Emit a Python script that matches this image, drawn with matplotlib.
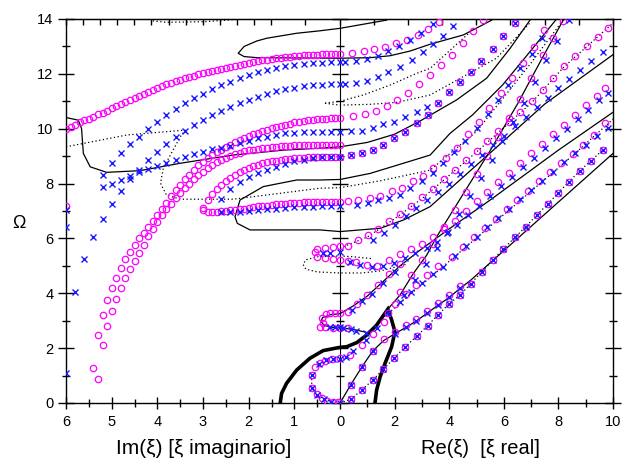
import matplotlib
matplotlib.use('Agg')
import matplotlib.pyplot as plt
from matplotlib.ticker import NullFormatter
import numpy as np

# x convention: negative values = Im(xi) magnitude (left panel), positive = Re(xi)
K = 10.04 / 6.0

def fwd(x):
    x = np.asarray(x, dtype=float)
    return np.where(x < 0, x * K, x)

def inv(u):
    u = np.asarray(u, dtype=float)
    return np.where(u < 0, u / K, u)

im01 = [6.0,5.9,5.8,5.7,5.6,5.5,5.4,5.3,5.2,5.1,5.0,4.9,4.8,4.7,4.6,4.5,4.4,4.3,4.2,4.1,
        4.0,3.9,3.8,3.7,3.6,3.5,3.4,3.3,3.2,3.1,3.0,2.9,2.8,2.7,2.6,2.5,2.4,2.3,2.2,2.1,
        2.0,1.9,1.8,1.7,1.6,1.5,1.4,1.3,1.2,1.1,1.0,0.9,0.8,0.7,0.6,0.5,0.4,0.3,0.2,0.1,0.0]

# ================= circles (magenta) =================
L1_om = [9.99,10.07,10.15,10.23,10.30,10.37,10.44,10.52,10.59,10.66,10.74,10.81,10.89,10.97,11.04,
         11.12,11.19,11.27,11.34,11.42,11.49,11.56,11.62,11.68,11.74,11.79,11.84,11.89,11.94,11.98,
         12.02,12.06,12.10,12.14,12.18,12.22,12.26,12.30,12.34,12.37,12.40,12.43,12.46,12.49,12.52,
         12.54,12.56,12.58,12.60,12.62,12.64,12.65,12.67,12.68,12.69,12.70,12.71,12.71,12.72,12.72,12.72]
L1_re = [0.45,0.87,1.26,1.65,2.04,2.44,2.84,3.22,3.61]
L1_re_om = [12.75,12.83,12.90,12.98,13.12,13.24,13.42,13.64,13.90]

P_om = [1.26,2.48,3.21,3.75,4.20,4.57,4.93,5.24,5.52,5.76,6.00,6.21,6.43,6.64,6.85,7.07,7.30,7.53,
        7.75,7.95,8.15,8.33,8.50,8.66,8.80,8.92,9.03,9.14,9.24,9.33,9.42,9.50,9.58,9.65,9.72,9.79,
        9.85,9.91,9.96,10.01,10.06,10.11,10.15,10.19,10.23,10.26,10.29,10.31,10.33,10.35,10.36,
        10.37,10.38,10.38,10.38]
P_re = [0.49,0.92,1.31,1.71,2.10,2.50,2.90,3.30,3.70,4.09,4.49,4.88,5.25]
P_re_om = [10.47,10.52,10.65,10.84,11.05,11.31,11.62,11.96,12.32,12.69,13.12,13.56,13.95]

Q_om = [0.87,2.11,2.81,3.35,3.79,4.20,4.54,4.87,5.19,5.48,5.76,6.09,6.35,6.60,6.84,7.06,7.27,7.47,
        7.65,7.83,8.00,8.15,8.30,8.44,8.56,8.67,8.77,8.86,8.94,9.01,9.07,9.12,9.17,9.21,9.24,9.27,
        9.29,9.31,9.33,9.35,9.36,9.37,9.38,9.39,9.40,9.40,9.41,9.41,9.42,9.42,9.42,9.42,9.42,9.42]

R_om = [7.40,7.62,7.80,7.96,8.10,8.22,8.33,8.43,8.51,8.58,8.64,8.69,8.74,8.78,8.81,8.84,8.87,8.89,
        8.91,8.93,8.94,8.95,8.96,8.97,8.97,8.98,8.98,8.98,8.98,8.98]

S_im = [3.0,3.0,2.9,2.8,2.7,2.6,2.5,2.4,2.3,2.2,2.1,2.0,1.9,1.8,1.7,1.6,1.5,1.4,1.3,1.2,1.1,1.0,
        0.9,0.8,0.7,0.6,0.5,0.4,0.3,0.2,0.1,0.0]
S_om = [7.12,7.04,6.98,6.97,6.98,6.99,7.00,7.02,7.04,7.07,7.09,7.12,7.14,7.17,7.19,7.20,7.22,7.24,
        7.25,7.27,7.28,7.29,7.30,7.31,7.31,7.32,7.32,7.33,7.33,7.33,7.33,7.33]
S_re = [0.30,0.67,1.10,1.47,1.89,2.26,2.69,3.05,3.40,3.88,4.27,4.70,5.10,5.46,5.90,6.29,6.72,7.10,7.47]
S_re_om = [7.38,7.40,7.47,7.55,7.72,7.85,8.10,8.28,8.55,8.92,9.31,9.80,10.26,10.77,11.29,11.84,12.38,12.99,13.60]

# box series (circle + cross) starting at Omega ~9
B_re = [0.39,0.79,1.19,1.59,1.99,2.39,2.81,3.21,3.60,3.99,4.39,4.78,5.18,5.59,5.98,6.40]
B_om = [9.04,9.10,9.22,9.41,9.65,9.89,10.20,10.50,10.93,11.35,11.71,12.08,12.47,12.89,13.38,13.86]
# box series from origin (dotted)
B0_re = [0.39,0.79,1.20,1.59,1.99,2.39,2.81,3.21,3.58,3.99,4.40,4.79,5.19,5.59,5.98,6.41,6.81,7.20,
         7.61,8.00,8.39,8.79,9.19,9.62]
B0_om = [0.13,0.47,0.84,1.23,1.65,2.05,2.44,2.82,3.21,3.61,3.94,4.35,4.78,5.20,5.62,6.04,6.43,6.85,
         7.25,7.67,8.07,8.47,8.83,9.22]
B1_re = [0.39,0.79,1.20]
B1_om = [0.66,1.30,1.90]

# markers along the solid line from the origin
S1c_re = [1.60,2.00,2.40,2.80,3.20,3.60,4.00,4.40]
S1c_om = [2.35,2.60,2.84,3.08,3.37,3.65,3.93,4.26]
S1x_re = [2.00,2.40,2.80,3.20,3.60,4.00,4.40]
S1x_om = [2.52,2.76,3.00,3.29,3.57,3.85,4.18]

# lowest hook (near origin) -> cusp
H0c_x = [-0.05,-0.15,-0.29,-0.40,-0.51,-0.62,-0.62,-0.55,-0.44,-0.33,-0.18,0.0,0.37,0.80,1.20,1.60,1.77]
H0c_om = [0.02,0.05,0.09,0.17,0.32,0.54,1.02,1.32,1.47,1.54,1.59,1.63,1.75,2.10,2.50,2.95,3.27]
H0x_x = [0.0,-0.20,-0.35,-0.50,-0.62,-0.62,-0.45,-0.30,-0.15,0.0,0.20,0.49,0.95,1.34,1.77]
H0x_om = [0.0,0.05,0.13,0.30,0.54,1.02,1.42,1.55,1.60,1.62,1.68,1.90,2.30,2.72,3.27]

# hook near Omega ~3
H3c_x = [-0.44,-0.33,-0.15,0.0,0.30,-0.37,-0.40,-0.31,-0.22,-0.11,0.0,0.28,0.61,0.98,1.38,1.81,2.20]
H3c_om = [2.78,2.76,2.75,2.73,2.72,2.90,3.09,3.23,3.27,3.29,3.29,3.33,3.60,3.94,4.30,4.70,5.05]
H3x_x = [-0.22,-0.10,0.0,0.12,0.40,0.59,0.95,0.45,0.79,1.16,1.59,2.01]
H3x_om = [2.76,2.76,2.76,2.72,2.69,2.62,2.56,3.38,3.72,3.97,4.36,4.79]

# hook near Omega ~5.5
H5c_x = [-0.55,-0.50,-0.33,-0.15,0.0,-0.50,-0.33,-0.15,0.0,0.30,0.59,0.98,1.35,1.78,2.20]
H5c_om = [5.52,5.60,5.64,5.70,5.73,5.32,5.28,5.25,5.22,5.18,5.15,5.03,4.98,5.22,5.42]
H5x_x = [-0.37,-0.22,0.0,0.37,0.73,1.16,1.59,1.99]
H5x_om = [5.46,5.48,5.52,5.13,5.03,4.97,4.99,5.09]

# band (alpha) ending at right edge near 11.3-11.5
Ac_re = [2.60,3.00,3.40,3.80,4.20,4.60,5.00,5.40,5.80,6.20,6.60,7.00,7.40,7.80,8.20,8.60,9.00,9.40,9.70]
Ac_om = [5.60,5.80,6.05,6.35,6.65,7.00,7.35,7.70,8.05,8.40,8.75,9.10,9.45,9.80,10.15,10.50,10.85,11.20,11.47]
Ax_re = [2.38,2.75,3.18,3.54,3.91,4.30,4.70,5.10,5.50,5.90,6.30,6.70,7.10,7.50,7.90,8.30,8.70,9.10,9.50,9.80]
Ax_om = [5.27,5.46,5.64,5.88,6.19,6.50,6.85,7.20,7.55,7.90,8.25,8.60,8.95,9.30,9.65,10.00,10.35,10.70,11.05,11.29]

# band (beta) from the cusp to the right edge near 10
Bc_re = [2.00,2.40,2.80,3.20,3.60,4.09,4.52,4.90,5.30,5.70,6.10,6.50,6.90,7.30,7.70,8.10,8.52,8.90,9.30,9.71]
Bc_om = [3.62,3.98,4.32,4.65,4.98,5.33,5.70,6.05,6.38,6.72,7.06,7.40,7.74,8.08,8.42,8.75,9.08,9.42,9.78,10.20]
Bx_re = [2.20,2.60,3.00,3.40,3.78,4.20,4.60,5.00,5.40,5.80,6.20,6.60,7.00,7.40,7.80,8.20,8.60,9.00,9.40,9.80]
Bx_om = [3.69,4.05,4.38,4.70,4.97,5.35,5.72,6.06,6.40,6.74,7.08,7.42,7.76,8.10,8.44,8.78,9.10,9.42,9.74,10.02]

# band E (circles to right edge ~13.7, crosses to ~12.8)
Ec_re = [0.30,0.67,1.04,1.40,1.80,2.20,2.60,3.00,3.40,3.80,4.20,4.60,5.00,5.40,5.80,6.20,6.60,7.02,
         7.42,7.80,8.20,8.60,9.04,9.45,9.83]
Ec_om = [5.73,5.94,6.12,6.35,6.62,6.90,7.20,7.50,7.82,8.15,8.50,8.85,9.20,9.55,9.90,10.25,10.60,11.00,
         11.40,11.85,12.30,12.65,13.03,13.35,13.68]
Ex_re = [1.20,1.60,2.00,2.40,2.80,3.20,3.60,4.00,4.40,4.80,5.20,5.60,6.00,6.40,6.81,7.20,7.61,8.00,
         8.40,8.79,9.20,9.62]
Ex_om = [5.95,6.20,6.50,6.80,7.10,7.40,7.70,8.00,8.35,8.70,9.05,9.40,9.75,10.10,10.44,10.80,11.13,11.47,
         11.81,12.14,12.46,12.78]

# steep band (gamma) from the cusp to the top
Gc_re = [2.20,2.60,3.00,3.40,3.80,4.20,4.60,5.00,5.40,5.80,6.20,6.60,7.00,7.42,7.81,8.18]
Gc_om = [4.05,4.65,5.20,5.80,6.40,7.05,7.70,8.35,9.00,9.70,10.40,11.10,11.85,12.69,13.32,13.93]
Gx_re = [2.35,2.75,3.15,3.55,3.95,4.35,4.75,5.15,5.55,5.95,6.35,6.75,7.15,7.55,7.95,8.40]
Gx_om = [3.92,4.50,5.05,5.65,6.25,6.90,7.55,8.20,8.85,9.55,10.25,10.95,11.70,12.50,13.20,13.95]

# ================= crosses (blue) =================
im02_X1 = [5.2,5.0,4.8,4.6,4.4,4.2,4.0,3.8,3.6,3.4,3.2,3.0,2.8,2.6,2.4,2.2,2.0,1.8,1.6,1.4,1.2,1.0,
           0.8,0.6,0.4,0.2,0.0]
X1_om = [8.31,8.74,9.10,9.43,9.71,9.99,10.26,10.50,10.71,10.93,11.11,11.26,11.44,11.59,11.71,11.84,
         11.95,12.06,12.14,12.21,12.27,12.32,12.36,12.39,12.41,12.42,12.43]
X1_re = [0.18,0.59,0.98,1.38,1.77,2.17,2.56,2.96,3.40]
X1_re_om = [12.43,12.47,12.53,12.66,12.83,13.03,13.23,13.48,13.80]

X2_im = [5.2,5.0,4.8,4.6,4.4,4.2,4.0,3.8,3.6,3.4,3.2,3.0,2.8,2.6,2.4,2.2,2.0,1.8,1.6,1.4,1.2,1.0,
         0.8,0.6,0.4,0.2,0.0]
X2_om = [7.89,8.00,8.13,8.27,8.42,8.53,8.65,8.75,8.86,8.98,9.08,9.16,9.25,9.31,9.38,9.47,9.55,9.65,
         9.71,9.77,9.83,9.85,9.87,9.88,9.89,9.89,9.89]
X2_re = [0.39,0.79,1.20,1.59,1.99,2.38,2.81,3.18]
X2_re_om = [9.92,9.92,10.01,10.16,10.26,10.44,10.62,10.80]

X3_im = [6.0,5.8,5.6,5.4,5.2,5.0,4.8,4.6,4.4,4.2,4.0,3.8,3.6,3.4,3.2,3.0,2.8,2.6,2.4,2.2,2.0,1.8,
         1.6,1.4,1.2,1.0,0.8,0.6,0.4,0.2,0.0]
X3_om = [1.10,4.05,5.25,6.06,6.71,7.27,7.73,8.15,8.50,8.86,9.14,9.44,9.69,9.93,10.13,10.32,10.50,
         10.66,10.80,10.93,11.04,11.17,11.28,11.36,11.43,11.50,11.55,11.58,11.60,11.62,11.62]
X3_re = [0.18,0.59,0.98,1.38,1.77,2.20,2.63,3.03,3.40,3.78,4.15]
X3_re_om = [11.62,11.65,11.74,11.90,12.05,12.26,12.50,12.78,13.08,13.39,13.76]

XS_im = [2.6,2.4,2.2,2.0,1.8,1.6,1.4,1.2,1.0,0.8,0.6,0.4,0.2,0.0]
XS_om = [6.95,6.96,6.98,7.00,7.03,7.06,7.08,7.11,7.13,7.15,7.16,7.17,7.17,7.17]
XS_re = [0.61,1.02,1.39,1.79,2.20,2.56,3.00,3.40,3.78,4.19,4.58,5.00,5.41,5.80,6.17,6.59,7.02,7.40]
XS_re_om = [7.22,7.30,7.40,7.47,7.60,7.85,8.10,8.40,8.74,9.14,9.55,10.04,10.52,11.05,11.59,12.20,12.71,13.30]

XR_im = [2.6,2.4,2.2,2.0,1.8,1.6,1.4,1.2,1.0,0.8,0.6,0.4,0.2,0.0]
XR_om = [7.43,7.79,8.05,8.25,8.37,8.49,8.61,8.73,8.81,8.87,8.93,8.96,8.98,8.98]

Xedge_im = [6.0,6.0]
Xedge_om = [6.43,7.04]
Cedge_im = [6.0]
Cedge_om = [7.19]

# ================= lines =================
thick_x = [-1.31,-1.28,-1.17,-0.95,-0.66,-0.37,0.0,0.24,0.61,0.98,1.34,1.75,1.89,2.01,1.89,1.65,1.47,1.34,1.28]
thick_om = [0.0,0.35,0.72,1.20,1.63,1.91,2.03,2.05,2.20,2.48,2.84,3.42,3.03,2.60,2.05,1.45,0.96,0.47,0.0]

s1_x = [0.0,0.39,0.79,1.20,1.59,2.00,2.42,2.81,3.21,3.60,4.00,4.40,4.79,10.0]
s1_om = [0.0,0.66,1.30,1.90,2.27,2.52,2.76,3.00,3.29,3.57,3.85,4.18,4.48,9.10]

t1_x = [1.75,2.20,2.69,3.18,3.54,4.50,5.50,6.50,7.42,8.20]
t1_om = [3.42,3.94,4.73,5.40,6.06,7.60,9.20,10.90,12.60,14.00]

t2_x = [0.95,0.50,0.0,-0.20,-0.35,-0.42,-0.38,-0.20,0.0,0.50,1.00,1.60,2.20,2.90,4.00,5.50,8.00,10.0]
t2_om = [2.58,2.68,2.74,2.76,2.84,2.98,3.12,3.22,3.26,3.55,3.90,4.45,5.00,5.55,6.35,7.40,9.22,10.60]

utop_x = [1.71,0.0,-0.44,-0.95,-1.60,-1.82,-2.10,-2.23,-2.10,-1.82,-0.95,0.0,1.10,1.83,2.56,3.30,4.52,5.56]
utop_om = [13.96,13.66,13.57,13.48,13.30,13.20,13.00,12.75,12.63,12.59,12.58,12.57,12.59,12.66,12.83,13.08,13.42,13.96]

umid_x = [-6.0,-5.73,-5.66,-5.62,-5.47,-5.11,-4.38,-3.50,-2.34,-1.24,-0.44,0.0,1.0,2.0,2.93,4.27,5.37,6.23,6.96]
umid_om = [10.41,10.31,10.01,9.10,8.61,8.41,8.47,8.74,9.04,9.22,9.29,9.34,9.50,9.80,10.28,11.05,11.84,12.93,13.96]

ulow_x = [7.90,6.96,5.95,4.85,4.03,3.30,2.32,1.10,0.0,-0.44,-0.95,-1.68,-2.19,-2.30,-2.25,-1.97,-1.60,-0.44,0.0,1.47,2.32,3.30,5.37,7.50,10.0]
ulow_om = [13.96,12.81,11.59,10.50,9.83,9.04,8.74,8.37,8.15,8.13,8.13,7.89,7.40,6.79,6.55,6.31,6.31,6.31,6.25,6.37,6.67,7.16,9.00,10.90,12.70]

d_top_x = [-4.1,-3.8,-3.0,-2.2]
d_top_om = [13.93,13.88,13.90,13.99]

d_v_x = [-6.0,-4.67,-3.39,-3.50,-3.87,-3.93,-3.80,-3.50,-2.34,-0.44,0.0,1.47,3.30,5.00,7.00,8.20]
d_v_om = [9.34,9.77,9.95,9.70,8.56,8.01,7.58,7.43,7.43,7.83,7.85,8.10,8.49,9.90,12.40,14.00]

d_h1_x = [-0.33,0.0,0.85,1.83,2.81,3.30,4.85]
d_h1_om = [10.93,11.00,11.23,11.59,12.02,12.20,13.60]
d_h2_x = [-0.33,0.0,1.10,2.08,3.30,5.73,7.0]
d_h2_om = [10.93,10.86,10.89,10.96,11.23,12.57,13.9]

d_e_x = [0.0,1.0,2.0,3.0,5.0,7.02,8.20,10.0]
d_e_om = [5.65,6.05,6.72,7.45,9.15,10.95,12.25,13.85]

d_b_x = [1.77,2.60,3.80,5.00,7.00,8.52,10.0]
d_b_om = [3.27,3.98,5.00,6.02,7.72,9.02,10.35]

d_e5_x = [2.40,1.50,0.80,0.0,-0.50,-0.75,-0.81,-0.75,-0.50,0.0,0.50,1.20]
d_e5_om = [5.05,4.82,4.74,4.74,4.78,4.88,5.05,5.22,5.33,5.36,5.33,5.26]

d_h0_x = [0.0,-0.30,-0.50,-0.62,-0.62]
d_h0_om = [0.0,0.10,0.30,0.54,1.02]

d_b0_x = [0.0] + B0_re
d_b0_om = [0.0] + B0_om

# ================= figure =================
plt.rcParams['font.family'] = ['Liberation Sans', 'DejaVu Sans']
fig = plt.figure(figsize=(6.23, 4.63), dpi=100)
L, R, B, T = 66/623, 613/623, (463-403)/463, (463-19)/463
ax = fig.add_axes([L, B, R-L, T-B])
ax.set_xscale('function', functions=(fwd, inv))
ax.set_xlim(-6, 10)
ax.set_ylim(0, 14)

MAG = '#ff00ff'
BLU = '#1a1aff'
ck = dict(ls='none', marker='o', ms=4.6, mfc='none', mec=MAG, mew=0.9, zorder=4)
xk = dict(ls='none', marker='x', ms=4.6, mec=BLU, mew=1.0, zorder=5)
lk = dict(color='black', lw=0.9, zorder=3)
dk = dict(color='black', lw=0.9, ls=(0, (1, 2)), zorder=3)

def neg(v):
    return [-a for a in v]

# lines
ax.plot(thick_x, thick_om, color='black', lw=2.6, zorder=3, solid_joinstyle='miter')
for xs, ys in [(s1_x, s1_om), (t1_x, t1_om), (t2_x, t2_om), (utop_x, utop_om),
               (umid_x, umid_om), (ulow_x, ulow_om)]:
    ax.plot(xs, ys, **lk)
for xs, ys in [(d_top_x, d_top_om), (d_v_x, d_v_om), (d_h1_x, d_h1_om), (d_h2_x, d_h2_om),
               (d_e_x, d_e_om), (d_b_x, d_b_om), (d_e5_x, d_e5_om), (d_h0_x, d_h0_om),
               (d_b0_x, d_b0_om)]:
    ax.plot(xs, ys, **dk)

# circles
circ = [(neg(im01), L1_om), (L1_re, L1_re_om), (neg(im01[6:]), P_om), (P_re, P_re_om),
        (neg(im01[7:]), Q_om), (neg(im01[31:]), R_om), (neg(S_im), S_om), (S_re, S_re_om),
        (B_re, B_om), (B0_re, B0_om), (B1_re, B1_om), (neg(Cedge_im), Cedge_om),
        (S1c_re, S1c_om), (H0c_x, H0c_om), (H3c_x, H3c_om), (H5c_x, H5c_om),
        (Ac_re, Ac_om), (Bc_re, Bc_om), (Ec_re, Ec_om), (Gc_re, Gc_om)]
for xs, ys in circ:
    ax.plot(xs, ys, **ck)

# crosses
cros = [(neg(im02_X1), X1_om), (X1_re, X1_re_om), (neg(X2_im), X2_om), (X2_re, X2_re_om),
        (neg(X3_im), X3_om), (X3_re, X3_re_om), (neg(XS_im), XS_om), (XS_re, XS_re_om),
        (neg(XR_im), XR_om), (B_re, B_om), (B0_re, B0_om), (B1_re, B1_om),
        (neg(Xedge_im), Xedge_om), (S1x_re, S1x_om), (H0x_x, H0x_om), (H3x_x, H3x_om),
        (H5x_x, H5x_om), (Ax_re, Ax_om), (Bx_re, Bx_om), (Ex_re, Ex_om), (Gx_re, Gx_om)]
for xs, ys in cros:
    ax.plot(xs, ys, **xk)

# ticks
major_x = [-6, -5, -4, -3, -2, -1, 0, 2, 4, 6, 8, 10]
major_lbl = ['6', '5', '4', '3', '2', '1', '0', '2', '4', '6', '8', '10']
minor_x = [-5.5, -4.5, -3.5, -2.5, -1.5, -0.5, 1, 3, 5, 7, 9]
ax.set_xticks(major_x)
ax.set_xticklabels(major_lbl)
ax.set_xticks(minor_x, minor=True)
ax.set_yticks([0, 2, 4, 6, 8, 10, 12, 14])
ax.set_yticks([1, 3, 5, 7, 9, 11, 13], minor=True)
ax.tick_params(axis='x', which='major', direction='inout', length=9, width=1, labelsize=10.5, pad=4, top=False)
ax.tick_params(axis='x', which='minor', direction='inout', length=6, width=1, top=False)
ax.tick_params(axis='y', which='major', direction='inout', length=11, width=1, labelsize=10.5, right=True)
ax.tick_params(axis='y', which='minor', direction='inout', length=5.5, width=1, right=True)
for s in ax.spines.values():
    s.set_linewidth(1.0)

top = ax.secondary_xaxis('top', functions=(lambda v: v, lambda v: v))
top.set_xticks([-6, -5.5, -5, -4.5, -4, -3.5, -3, -2.5, -2, -1.5, -1, -0.5, 0, 1, 2, 3, 4, 5, 6, 7, 8, 9, 10])
top.tick_params(direction='in', length=4, width=1, labeltop=False)
top.xaxis.set_major_formatter(NullFormatter())

mid = ax.secondary_yaxis(float(fwd(0.0) - fwd(-6.0)) / float(fwd(10.0) - fwd(-6.0)))
mid.set_yticks([0, 2, 4, 6, 8, 10, 12, 14])
mid.set_yticks([1, 3, 5, 7, 9, 11, 13], minor=True)
mid.tick_params(which='major', direction='inout', length=11, width=1)
mid.tick_params(which='minor', direction='inout', length=5.5, width=1)
mid.yaxis.set_major_formatter(NullFormatter())
mid.yaxis.set_minor_formatter(NullFormatter())
mid.spines['left'].set_linewidth(1.0)

fig.text(19/623, 1 - 223/463, 'Ω', fontsize=13, ha='center', va='center')
fig.text(204/623, 1 - 448/463, 'Im(ξ) [ξ imaginario]', fontsize=15, ha='center', va='center')
fig.text(480/623, 1 - 448/463, 'Re(ξ)  [ξ real]', fontsize=14.5, ha='center', va='center')

fig.savefig('out.png', dpi=100)
